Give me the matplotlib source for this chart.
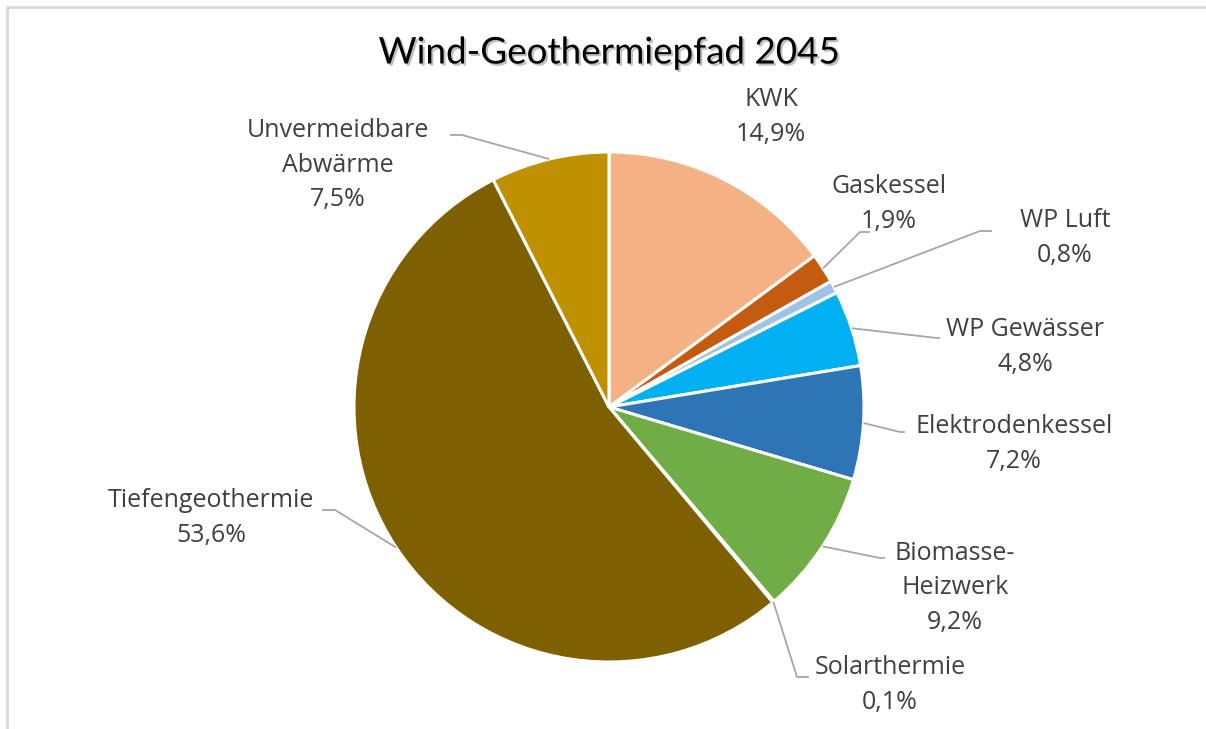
import numpy as np
import matplotlib
matplotlib.use("Agg")
from matplotlib import pyplot as plt
import matplotlib.patheffects as pe

# data
labels = ["KWK", "Gaskessel", "WP Luft", "WP Gewässer", "Elektrodenkessel",
          "Biomasse-\nHeizwerk", "Solarthermie", "Tiefengeothermie",
          "Unvermeidbare\nAbwärme"]
values = [14.9, 1.9, 0.8, 4.8, 7.2, 9.2, 0.1, 53.6, 7.5]
colors = ["#F4B183", "#C55A11", "#9DC3E6", "#00B0F0", "#2E75B6",
          "#70AD47", "#FFC000", "#7F6000", "#BF9000"]
title = "Wind-Geothermiepfad 2045"

W, H = 1206, 729
# label centres (px, y from top) and leader elbow points (None = no leader)
label_pos = [(771, 117), (889, 204), (1065, 238), (1025, 347), (1014, 444),
             (955, 588), (890, 685), (211, 518), (338, 165)]
elbows = [None, ((860, 232), (870, 232)), ((980, 231), (992, 231)),
          ((937, 338), (940, 338)), ((900, 432), (905, 432)),
          ((880, 558), (885, 558)), ((797, 677), (809, 677)),
          ((335, 510), (322, 510)), ((462, 135), (450, 135))]

fig = plt.figure(figsize=(W / 100, H / 100), dpi=100)
ax = fig.add_axes([0, 0, 1, 1])
ax.set_xlim(0, W)
ax.set_ylim(0, H)
ax.set_aspect("equal")
ax.axis("off")

cx, cy, r = 609, 407, 255
wedges, _ = ax.pie(values, colors=colors, startangle=90, counterclock=False,
                   center=(cx, H - cy), radius=r,
                   wedgeprops=dict(edgecolor="white", linewidth=2.2))
ax.set_xlim(0, W)
ax.set_ylim(0, H)

tfont = ["Open Sans", "DejaVu Sans"]
for i, w in enumerate(wedges):
    lx, ly = label_pos[i]
    pct = f"{values[i]:.1f}".replace(".", ",") + "%"
    ax.text(lx, H - ly, labels[i] + "\n" + pct, ha="center", va="center",
            fontsize=18, color="#404040", family=tfont, linespacing=1.5)
    if elbows[i] is not None:
        ang = np.deg2rad((w.theta1 + w.theta2) / 2)
        sx, sy = cx + r * np.cos(ang), H - cy + r * np.sin(ang)
        (ex, ey), (fx, fy) = elbows[i]
        ax.plot([sx, ex, fx], [sy, H - ey, H - fy], color="#A6A6A6", lw=1.3,
                solid_capstyle="butt")

ax.text(609, H - 53, title, ha="center", va="center", fontsize=26.5,
        family=["Lato", "DejaVu Sans"], color="black",
        path_effects=[pe.withSimplePatchShadow(offset=(1.5, -1.5),
                                               shadow_rgbFace="#808080",
                                               alpha=0.5)])

# chart box border (top and left only visible)
ax.plot([6.5, 6.5, W], [0, H - 7, H - 7], color="#D9D9D9", lw=2)

fig.savefig("out.png", dpi=100)
